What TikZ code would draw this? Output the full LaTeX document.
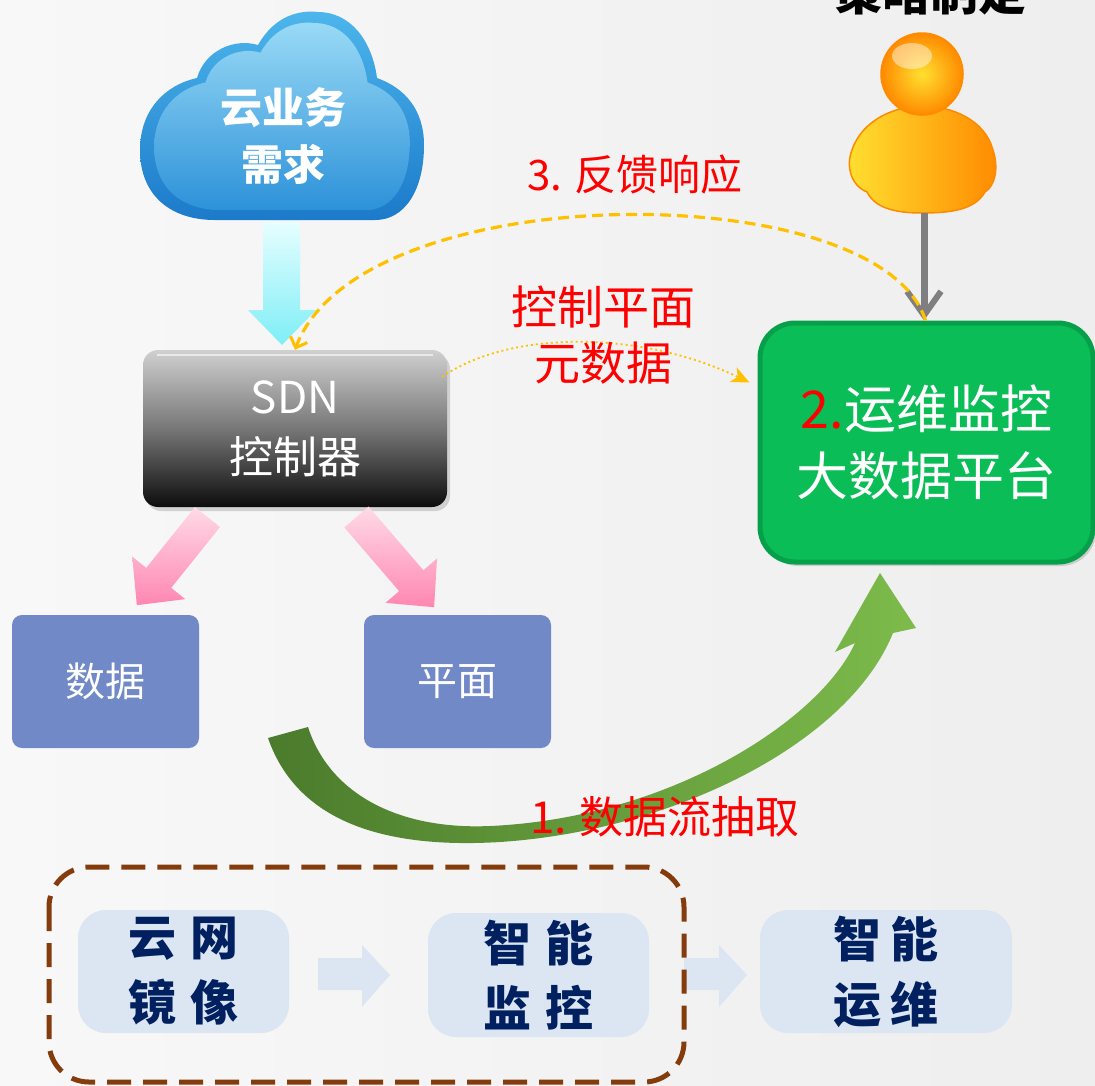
\documentclass[tikz,border=0pt]{standalone}
\usepackage{fontspec}
\setmainfont{Noto Sans CJK SC}
\usetikzlibrary{arrows.meta,calc,shadows}

\definecolor{bgL}{HTML}{F8F8F8}
\definecolor{bgR}{HTML}{EEEEEE}
\definecolor{cloudTop}{HTML}{4DB6EC}
\definecolor{cloudBot}{HTML}{1C7ACA}
\definecolor{cloudInTop}{HTML}{A8E2F9}
\definecolor{cloudInBot}{HTML}{3096DC}
\definecolor{cyanTop}{HTML}{E6FEFF}
\definecolor{cyanBot}{HTML}{7EEEF6}
\definecolor{pinkLight}{HTML}{FFDAE7}
\definecolor{pinkDeep}{HTML}{FF86B1}
\definecolor{planeBlue}{HTML}{7189C6}
\definecolor{platGreen}{HTML}{0BBD57}
\definecolor{platEdge}{HTML}{07A04A}
\definecolor{swDark}{HTML}{4B7B2C}
\definecolor{swLight}{HTML}{7DBB4B}
\definecolor{gold}{HTML}{FFC000}
\definecolor{arrowGray}{HTML}{7F7F7F}
\definecolor{frameBrown}{HTML}{843C0C}
\definecolor{paleBlue}{HTML}{DCE6F2}
\definecolor{navy}{HTML}{002060}
\definecolor{orangeA}{HTML}{FF8A00}
\definecolor{yellowA}{HTML}{FFE030}
\definecolor{sdnTop}{HTML}{D0D0D0}
\definecolor{sdnMid}{HTML}{777777}
\definecolor{sdnBot}{HTML}{0C0C0C}

\begin{document}
\begin{tikzpicture}[x=1pt,y=1pt,
  cloudtxt/.style={text=white, font=\bfseries\fontsize{42}{57}\selectfont, align=center},
  sdnbox/.style={rounded corners=15pt, minimum width=304pt, minimum height=157pt,
    top color=sdnTop, bottom color=sdnBot, middle color=sdnMid,
    text=white, font=\fontsize{44}{60}\selectfont, align=center,
    drop shadow={opacity=.3, shadow xshift=3pt, shadow yshift=-4pt}},
  planebox/.style={rounded corners=10pt, minimum width=187pt, minimum height=133pt,
    fill=planeBlue, text=white, font=\fontsize{40}{48}\selectfont},
  platbox/.style={rounded corners=35pt, minimum width=333pt, minimum height=239pt,
    fill=platGreen, draw=platEdge, line width=5pt, text=white,
    font=\fontsize{52}{67}\selectfont, align=center,
    drop shadow={opacity=.3, shadow xshift=3pt, shadow yshift=-4pt}},
  stagebox/.style={rounded corners=28pt, fill=paleBlue, text=navy,
    font=\bfseries\fontsize{48}{65}\selectfont, align=center},
  redlbl/.style={text=red, font=\fontsize{42}{56}\selectfont, align=center},
  feedback/.style={gold, line width=3.2pt, dash pattern=on 11pt off 6pt,
    -{Straight Barb[length=9pt,width=18pt,line width=3pt]}},
  metaflow/.style={gold, line width=1.8pt, dash pattern=on 2pt off 3pt,
    -{Stealth[length=18pt,width=16pt,inset=5pt]}},
  personarrow/.style={arrowGray, line width=7pt,
    -{Straight Barb[length=24pt,width=34pt,line width=6pt]}},
  chevron/.style={fill=paleBlue},
  frame/.style={draw=frameBrown, line width=5pt, dash pattern=on 24pt off 12pt,
    rounded corners=40pt}
]
\useasboundingbox (0,0) rectangle (1095,-1085);
\clip (0,0) rectangle (1095,-1085);

% backdrop
\shade[left color=bgL, right color=bgR] (0,0) rectangle (1095,-1085);

% cloud of business demand
\def\cloudoutline{(215,-220) .. controls (170,-220) and (140,-195) .. (140,-150)
  .. controls (140,-110) and (165,-85) .. (197,-78)
  .. controls (205,-50) and (235,-38) .. (258,-45)
  .. controls (275,-15) and (300,-10) .. (318,-12)
  .. controls (350,-12) and (372,-40) .. (377,-78)
  .. controls (405,-88) and (424,-110) .. (424,-145)
  .. controls (424,-190) and (405,-220) .. (375,-220) -- cycle}
\shade[top color=cloudTop, bottom color=cloudBot] \cloudoutline;
\begin{scope}[shift={(282,-122)}, scale=0.9, shift={(-282,122)}]
  \shade[top color=cloudInTop, bottom color=cloudInBot, opacity=.85] \cloudoutline;
\end{scope}
\node[cloudtxt] (cloud) at (283,-136) {云业务\\需求};
\coordinate (cloudbase) at (282,-222);

% SDN controller
\node[sdnbox] (sdn) at (295,-428.5) {SDN\\控制器};
\draw[white, opacity=.6, line width=2pt] ($(sdn.north west)+(14,-5)$) -- ($(sdn.north east)+(-14,-5)$);

% block arrow from the cloud down to the controller
\shade[top color=cyanTop, bottom color=cyanBot]
  (cloudbase) ++(-19,0) -- ++(37,0) -- ++(0,-88) -- ++(16,0)
  -- (282,-345) -- (248,-310) -- (263,-310) -- cycle;

% data plane boxes
\node[planebox] (data) at (105.5,-681.5) {数据};
\node[planebox] (plane) at (457.5,-681.5) {平面};

% pink block arrows from the controller to the plane boxes
\coordinate (pinkL) at (207.5,-517);
\coordinate (pinkR) at (356.5,-517);
\begin{scope}[shift={(pinkL)}, rotate=231.3]
  \shade[top color=pinkLight, bottom color=pinkDeep]
    (0,-16) -- (78,-16) -- (78,-34) -- (113,0) -- (78,34) -- (78,16) -- (0,16) -- cycle;
\end{scope}
\begin{scope}[shift={(pinkR)}, rotate=-49.3]
  \shade[top color=pinkLight, bottom color=pinkDeep]
    (0,-16) -- (84,-16) -- (84,-34) -- (119,0) -- (84,34) -- (84,16) -- (0,16) -- cycle;
\end{scope}

% operations big-data platform
\node[platbox] (platform) at (926.5,-442.5) {\textcolor{red}{2.}运维监控\\大数据平台};

% policy maker
\node[font=\bfseries\fontsize{48}{58}\selectfont, anchor=base] (policy) at (930,-10) {策略制定};
\shade[left color=yellowA, right color=orangeA, draw=orangeA, line width=1.5pt]
  (867,-192) .. controls (850,-185) and (846,-165) .. (852,-150)
  .. controls (862,-120) and (895,-106) .. (922,-106)
  .. controls (952,-106) and (985,-120) .. (993,-150)
  .. controls (999,-168) and (995,-186) .. (985,-192)
  .. controls (975,-210) and (950,-213) .. (922,-213)
  .. controls (895,-213) and (875,-208) .. (867,-192) -- cycle;
\shade[inner color=yellowA, outer color=orangeA, draw=orangeA, line width=1.5pt]
  (922,-74) circle[radius=41];
\fill[white, opacity=.45] (912,-56) ellipse[x radius=20, y radius=13];
\node[inner sep=0pt, minimum size=2pt] (person) at (922,-150) {};
\coordinate (personfoot) at (924,-213);
\draw[personarrow] (personfoot) -- (personfoot |- platform.north);

% feedback loop from the platform to the controller
\draw[feedback] ($(platform.north)+(-1,0)$) .. controls (880,-175) and (360,-175) .. (sdn.north);
\node[redlbl] (lblfeedback) at (635,-175) {3. 反馈响应};

% control-plane metadata flow
\draw[metaflow] ($(sdn.north east)+(-5,-27)$) .. controls (510,-330) and (640,-330) .. ($(platform.west)+(-8,60)$);
\node[redlbl, font=\fontsize{46}{56}\selectfont] (lblmeta) at (603,-335) {控制平面\\元数据};

% sweeping arrow: data flow extraction
\shade[left color=swDark, right color=swLight]
  (308,-727) -- (268,-738) .. controls (300,-830) and (400,-848) .. (500,-842)
  .. controls (680,-830) and (850,-740) .. (893,-633)
  -- (916,-628) -- (880,-573) -- (835,-652) -- (855,-643)
  .. controls (820,-720) and (670,-818) .. (490,-826)
  .. controls (400,-830) and (330,-795) .. (308,-727) -- cycle;
\node[redlbl, font=\fontsize{44}{52}\selectfont] (lblflow) at (665,-817) {1. 数据流抽取};

% stages at the bottom
\fill[chevron] (318,-958) -- (362,-958) -- (362,-945) -- (390,-975) -- (362,-1007) -- (362,-990) -- (318,-990) -- cycle;
\fill[chevron] (684,-958) -- (719,-958) -- (719,-945) -- (747,-975) -- (719,-1007) -- (719,-990) -- (684,-990) -- cycle;
\node[stagebox, minimum width=211pt, minimum height=123pt] (mirror) at (183.5,-971.5) {云\hspace{14pt}网\\镜\hspace{14pt}像};
\node[stagebox, minimum width=221pt, minimum height=124pt] (monitor) at (538.5,-975) {智\hspace{14pt}能\\监\hspace{14pt}控};
\node[stagebox, minimum width=252pt, minimum height=123pt] (ops) at (886,-971.5) {智\hspace{10pt}能\\运\hspace{10pt}维};
\draw[frame] (49,-867) rectangle (684,-1082);
\end{tikzpicture}
\end{document}
